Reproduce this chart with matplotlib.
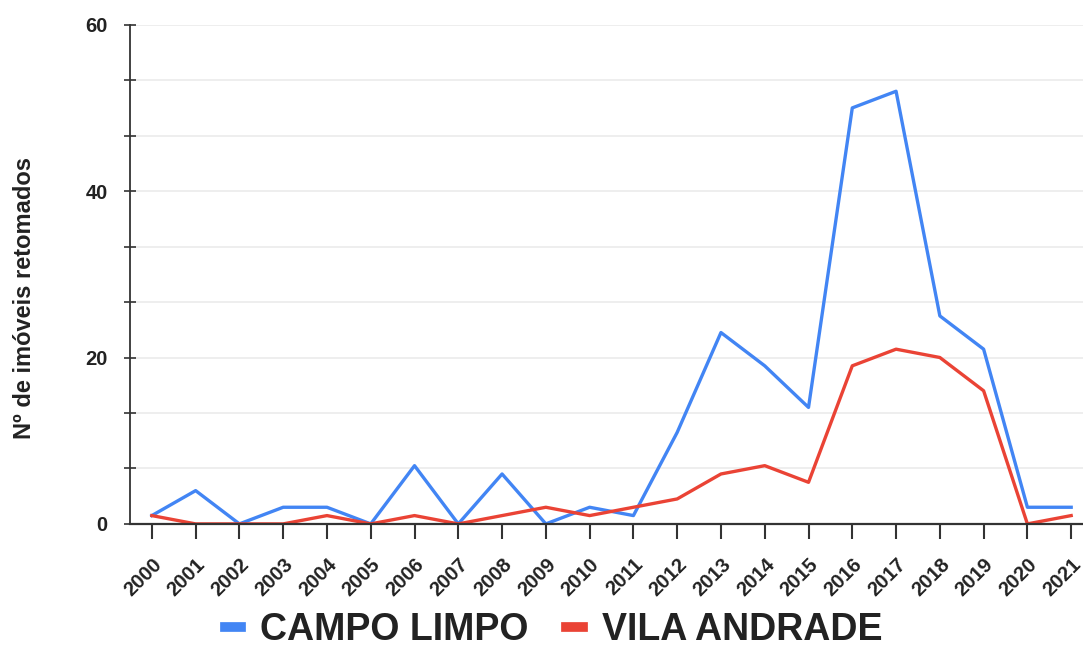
import numpy as np
import matplotlib.pyplot as plt
import matplotlib.transforms as mtrans

plt.rcParams['font.family'] = ['Liberation Sans', 'DejaVu Sans']

# data
anos = list(range(2000, 2022))
campo_limpo = [1, 4, 0, 2, 2, 0, 7, 0, 6, 0, 2, 1, 11, 23, 19, 14, 50, 52, 25, 21, 2, 2]
vila_andrade = [1, 0, 0, 0, 1, 0, 1, 0, 1, 2, 1, 2, 3, 6, 7, 5, 19, 21, 20, 16, 0, 1]

azul = '#4285F4'
vermelho = '#EA4335'

fig = plt.figure(figsize=(10.83, 6.5), dpi=100)
ax = fig.add_axes([0.12, 0.194, 0.88, 0.768])

ax.plot(anos, campo_limpo, color=azul, lw=2.4, label='CAMPO LIMPO')
ax.plot(anos, vila_andrade, color=vermelho, lw=2.4, label='VILA ANDRADE')

ax.set_xlim(1999.5, 2021.27)
ax.set_ylim(0, 60)

# gridlines every 20/3, labels only at multiples of 20
yt = np.linspace(0, 60, 10)
ax.set_yticks(yt)
ax.set_yticklabels(['0', '', '', '20', '', '', '40', '', '', '60'])
ax.yaxis.grid(True, color='#ebebeb', lw=1.2)
ax.set_axisbelow(True)

ax.set_xticks(anos)
ax.set_xticklabels([str(a) for a in anos], rotation=45, ha='right', rotation_mode='anchor',
                   fontsize=14.5, fontweight='bold', color='#222222')
for lb in ax.get_yticklabels():
    lb.set_fontweight('bold')
    lb.set_fontsize(14.5)
    lb.set_color('#222222')

ax.tick_params(axis='y', direction='inout', length=8, width=1.2, color='#333333', pad=12)
ax.tick_params(axis='x', direction='out', length=11, width=1.5, color='#333333', pad=4)
desloc = mtrans.ScaledTranslation(0.0, -0.10, fig.dpi_scale_trans)
for lb in ax.get_xticklabels():
    lb.set_transform(lb.get_transform() + desloc)

for s in ['top', 'right']:
    ax.spines[s].set_visible(False)
ax.spines['left'].set_color('#333333')
ax.spines['left'].set_linewidth(1.3)
ax.spines['bottom'].set_color('#333333')
ax.spines['bottom'].set_linewidth(1.6)

ax.set_ylabel('Nº de imóveis retomados', fontsize=17, fontweight='bold', color='#222222')
ax.yaxis.set_label_coords(-0.099, 0.453)

leg = fig.legend(loc='center', bbox_to_anchor=(0.511, 0.03), ncol=2, frameon=False,
                 prop={'size': 27, 'weight': 'bold'}, handlelength=0.45, handletextpad=0.5,
                 columnspacing=1.0)
for t in leg.get_texts():
    t.set_color('#222222')
for h in leg.get_lines():
    h.set_linewidth(7)

fig.savefig('out.png', dpi=100)
